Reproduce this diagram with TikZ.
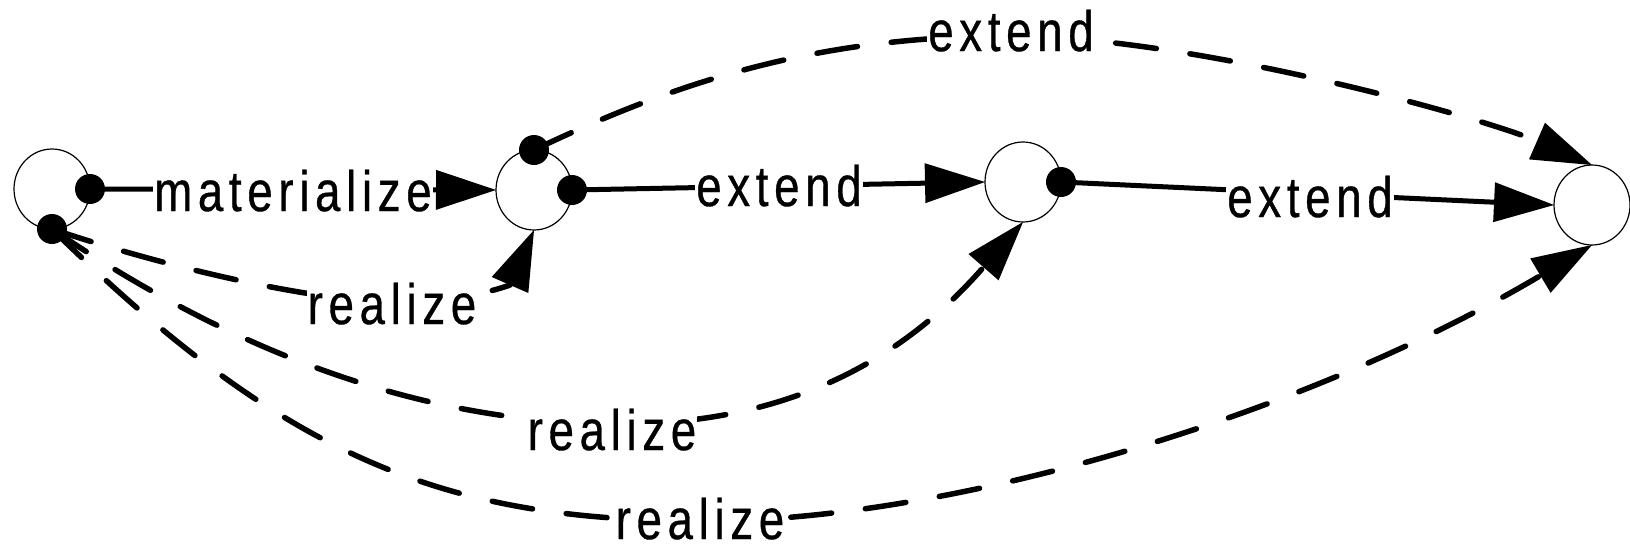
\documentclass[tikz,border=0pt]{standalone}
\usepackage{fontspec}
\setmainfont{Liberation Sans}[FakeStretch=0.8,LetterSpace=10,FakeBold=0.6]
\usetikzlibrary{arrows.meta,shapes.geometric}
\begin{document}
\begin{tikzpicture}[x=1pt,y=-1pt,
  state/.style={ellipse,draw=black,line width=1.2pt,fill=white,minimum width=76pt,minimum height=80pt,inner sep=0pt,outer sep=0pt},
  dot/.style={circle,fill=black,minimum size=30pt,inner sep=0pt,outer sep=0pt},
  lbl/.style={fill=white,inner sep=1pt,anchor=base,font=\fontsize{57}{62}\selectfont},
  solidedge/.style={line width=5pt,-{Triangle[length=60pt,width=40pt,line width=0pt]}},
  dashedge/.style={solidedge,line width=5.5pt,line cap=round,dash pattern=on 41pt off 34pt},
]
\useasboundingbox (0,0) rectangle (1630,549);
% states
\node[state] (A) at (52,189) {};
\node[state] (B) at (534,190) {};
\node[state] (C) at (1023,182) {};
\node[state] (D) at (1592,205) {};
% via points
\coordinate (t1) at (1010,36);
\coordinate (r1) at (392,302);
\coordinate (r2) at (620,424);
\coordinate (r3) at (705,521);
% source dots positions
\coordinate (pa1) at (A.east);
\coordinate (pa2) at (A.south);
\coordinate (pb1) at (B.north);
\coordinate (pb2) at (B.east);
\coordinate (pc1) at (C.east);
% solid edges
\draw[solidedge] (pa1) -- (B.west);
\draw[solidedge] (pb2) -- (C.west);
\draw[solidedge] (pc1) -- (D.west);
% dashed edges
\draw[dashedge] (pb1) .. controls (668,86) and (810,36) .. (t1) .. controls (1190,36) and (1484,118) .. (D.north);
\draw[dashedge] (pa2) .. controls (150,262) and (300,300) .. (r1) .. controls (460,304) and (510,285) .. (B.south);
\draw[dashedge] (pa2) .. controls (230,350) and (420,424) .. (r2) .. controls (770,424) and (891,373) .. (C.south);
\draw[dashedge] (pa2) .. controls (290,463) and (450,521) .. (r3) .. controls (955,521) and (1309,413) .. (D.south);
% dots
\node[dot] (a1) at (pa1) {};
\node[dot] (a2) at (pa2) {};
\node[dot] (b1) at (pb1) {};
\node[dot] (b2) at (pb2) {};
\node[dot] (c1) at (pc1) {};
% labels
\node[lbl] (lm) at (293,211) {materialize};
\node[lbl] (le1) at (779,206) {extend};
\node[lbl] (le2) at (1310,217) {extend};
\node[lbl] (le3) at (1011,51) {extend};
\node[lbl] (lr1) at (392,324) {realize};
\node[lbl] (lr2) at (612,450) {realize};
\node[lbl] (lr3) at (700,539) {realize};
\end{tikzpicture}
\end{document}
